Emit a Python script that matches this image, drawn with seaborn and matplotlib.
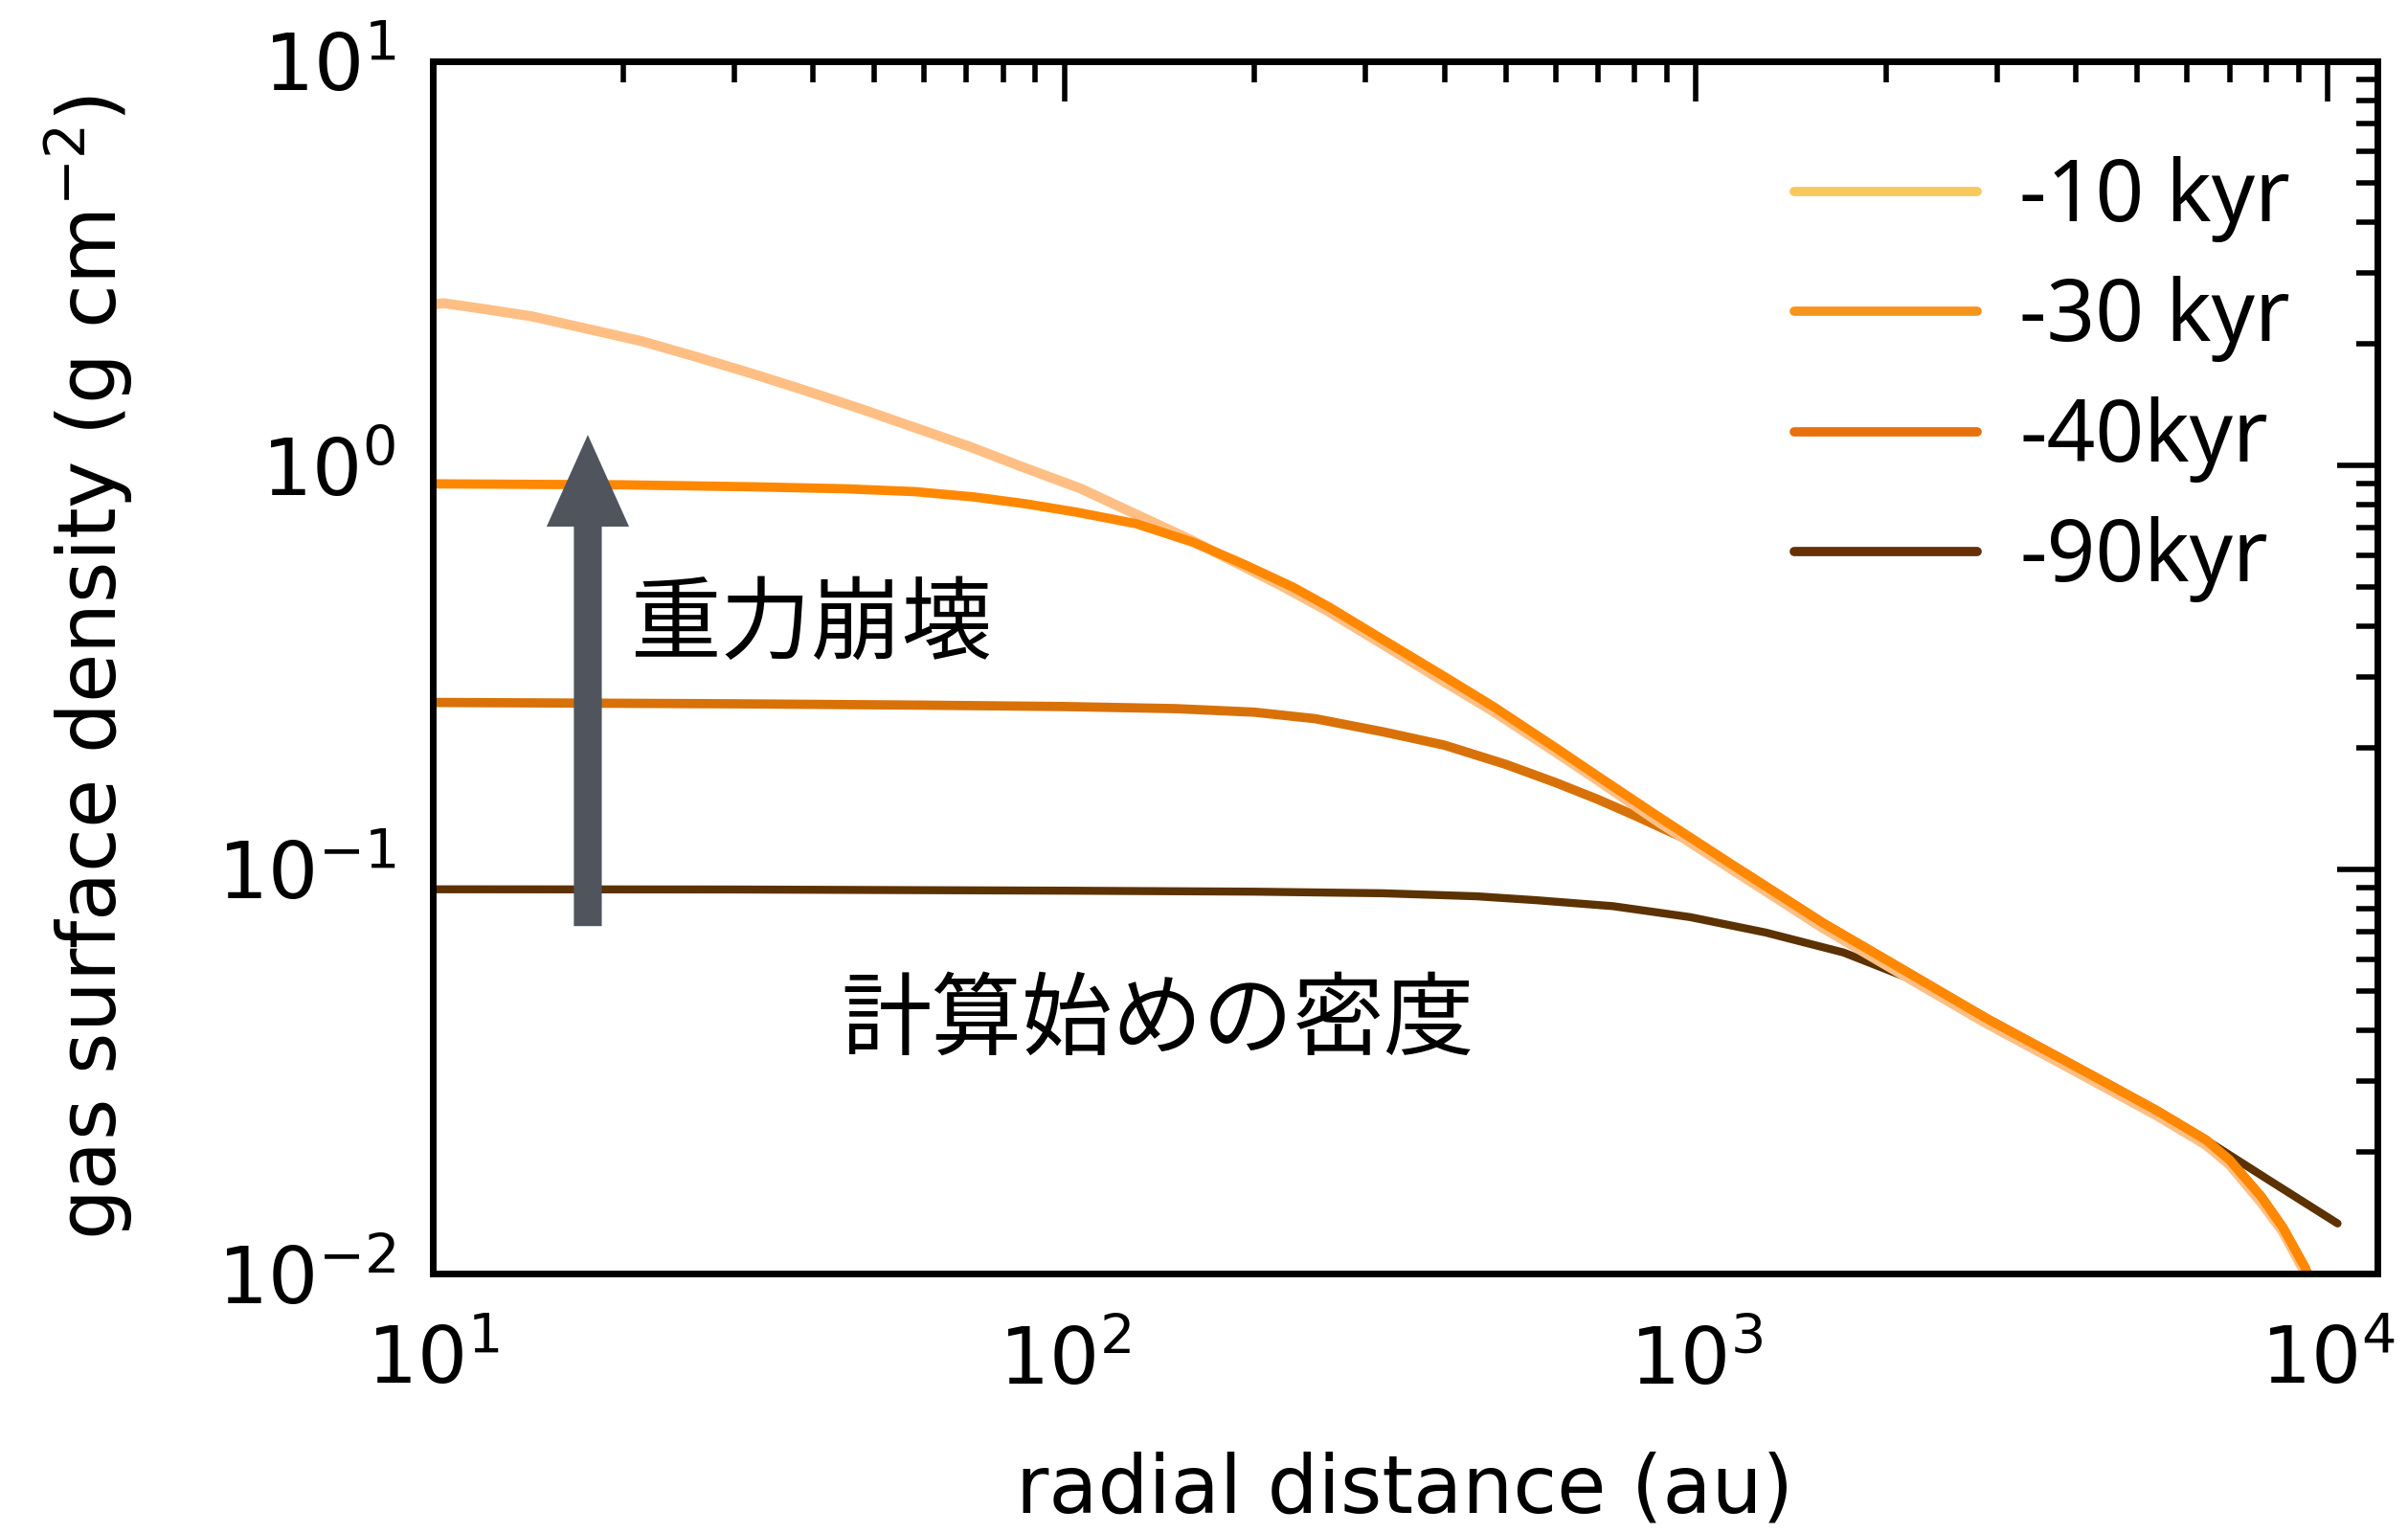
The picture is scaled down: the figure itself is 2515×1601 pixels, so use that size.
import numpy as np
import pandas as pd
import matplotlib
matplotlib.use("Agg")
import matplotlib.pyplot as plt
from matplotlib.lines import Line2D
import seaborn as sns

# ---------------- data ----------------
labels = ["-10 kyr", "-30 kyr", "-40kyr", "-90kyr"]

x_10 = [10, 10.4, 12, 14.3, 17.5, 21.4, 26, 31.9, 39, 47.6, 58, 71.1, 87, 106, 130, 158, 190, 222, 262,
        320, 400, 478, 600, 700, 873, 1200, 1592, 2000, 2884, 4000, 5370, 6425, 7000, 7855, 8500, 9200, 9600]
y_10 = [2.50, 2.52, 2.44, 2.34, 2.18, 2.03, 1.86, 1.69, 1.53, 1.38, 1.24, 1.11, 0.983, 0.877, 0.756, 0.656, 0.567, 0.501, 0.435,
        0.360, 0.291, 0.246, 0.195, 0.166, 0.131, 0.095, 0.0715, 0.058, 0.0416, 0.0316, 0.0246, 0.0208, 0.0186, 0.0150, 0.0127, 0.0101, 0.0088]

x_30 = [10, 20, 32, 45, 58, 72, 87, 105, 130, 160, 194, 230, 262, 320, 400, 478, 600, 700, 873,
        1200, 1592, 2000, 2884, 4000, 5370, 6425, 7000, 7855, 8500, 9200, 9500]
y_30 = [0.900, 0.895, 0.885, 0.875, 0.861, 0.835, 0.803, 0.765, 0.717, 0.645, 0.566, 0.500, 0.447, 0.370, 0.300, 0.253, 0.200, 0.170, 0.135,
        0.0977, 0.0736, 0.0598, 0.0428, 0.0325, 0.0253, 0.0214, 0.0191, 0.0155, 0.0130, 0.0104, 0.0093]

x_40 = [10, 30, 60, 100, 150, 200, 250, 320, 400, 500, 600, 700, 800, 900, 1000,
        1200, 1592, 2000, 2884, 4000, 5370, 6425, 7000, 7855, 8500, 9200, 9500]
y_40 = [0.259, 0.257, 0.255, 0.253, 0.250, 0.245, 0.236, 0.219, 0.203, 0.182, 0.164, 0.149, 0.136, 0.125, 0.116,
        0.0977, 0.0736, 0.0598, 0.0428, 0.0325, 0.0253, 0.0214, 0.0191, 0.0155, 0.0130, 0.0104, 0.0093]

x_90 = [10, 30, 100, 200, 320, 450, 560, 740, 980, 1290, 1713, 2270, 2660, 3500, 4500, 5370, 6425, 8000, 10380]
y_90 = [0.0893, 0.0892, 0.0886, 0.0881, 0.0873, 0.0858, 0.0839, 0.0811, 0.0762, 0.0698, 0.0623, 0.0524, 0.0461, 0.0362, 0.0295, 0.0253, 0.0214, 0.0172, 0.0133]

line_colors = {"-10 kyr": "#FFBF84", "-30 kyr": "#FF8800", "-40kyr": "#D87208", "-90kyr": "#5C3202"}
legend_colors = ["#F7C85C", "#F7941D", "#E8700F", "#662F05"]

arrow_x = 17.6
arrow_y0, arrow_y1 = 0.0724, 1.19
text_collapse = "重力崩壊"
text_initial = "計算始めの密度"

# ---------------- build long-form table ----------------
frames = []
for lab, xs, ys in [("-90kyr", x_90, y_90), ("-40kyr", x_40, y_40),
                    ("-10 kyr", x_10, y_10), ("-30 kyr", x_30, y_30)]:
    frames.append(pd.DataFrame({"r": xs, "sigma": ys, "epoch": lab}))
df = pd.concat(frames, ignore_index=True)

# ---------------- style ----------------
sns.set_style("white")
plt.rcParams["font.family"] = ["DejaVu Sans", "Noto Sans CJK JP"]
plt.rcParams["mathtext.fontset"] = "dejavusans"
plt.rcParams["text.color"] = "black"
plt.rcParams["axes.labelcolor"] = "black"
plt.rcParams["xtick.color"] = "black"
plt.rcParams["ytick.color"] = "black"

fig = plt.figure(figsize=(25.15, 16.01), dpi=100)
ax = fig.add_axes([452 / 2515, 1 - 1330 / 1601, (2483 - 452) / 2515, (1330 - 64) / 1601])

widths = {"-90kyr": 6.0, "-40kyr": 7.0, "-10 kyr": 7.5, "-30 kyr": 7.0}
for lab in ["-90kyr", "-40kyr", "-10 kyr", "-30 kyr"]:
    sub = df[df["epoch"] == lab]
    sns.lineplot(data=sub, x="r", y="sigma", color=line_colors[lab], lw=widths[lab],
                 sort=False, estimator=None, legend=False, ax=ax)

ax.set_xscale("log")
ax.set_yscale("log")
ax.set_xlim(10, 1.2e4)
ax.set_ylim(1e-2, 1e1)

for s in ax.spines.values():
    s.set_linewidth(5)
    s.set_color("black")

ax.tick_params(which="both", direction="in", top=True, right=True, color="black")
ax.tick_params(which="major", length=30, width=4, labelsize=59)
ax.tick_params(which="minor", length=16, width=4)
ax.tick_params(axis="x", which="major", pad=38)
ax.tick_params(axis="y", which="major", pad=28)

ax.set_xlabel("radial distance (au)", fontsize=60, labelpad=38)
ax.set_ylabel(r"gas surface density (g cm$^{-2}$)", fontsize=60, labelpad=62)

# arrow
ax.annotate("", xy=(arrow_x, arrow_y1), xytext=(arrow_x, arrow_y0),
            arrowprops=dict(width=21, headwidth=62, headlength=69,
                            facecolor="#50555D", edgecolor="none", shrink=0))

ax.text(20.5, 0.40, text_collapse, fontsize=68, family=["Noto Sans CJK JP"],
        va="center", ha="left", color="black")
ax.text(44.3, 0.042, text_initial, fontsize=68, family=["Noto Sans CJK JP"],
        va="center", ha="left", color="black")

handles = [Line2D([], [], color=c, lw=7) for c in legend_colors]
leg = ax.legend(handles, labels, loc="upper left", bbox_to_anchor=(0.70, 0.922),
                frameon=False, handlelength=2.15, handletextpad=0.5,
                labelspacing=0.4, borderaxespad=0, borderpad=0,
                prop={"family": "Noto Sans", "size": 64})

fig.savefig("out.png", dpi=100)
